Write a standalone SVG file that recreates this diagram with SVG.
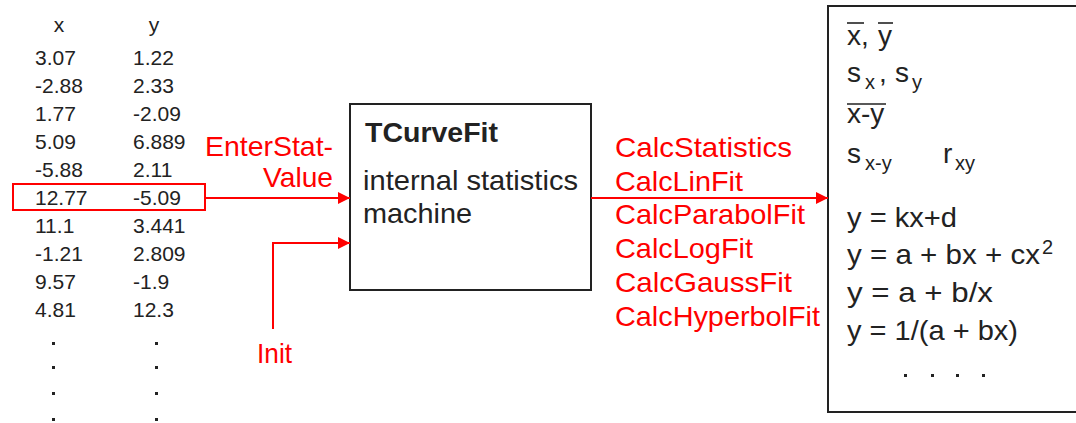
<svg xmlns="http://www.w3.org/2000/svg" width="1076" height="423" viewBox="0 0 1076 423">
<defs>
<style>
.tb{font-family:"Liberation Sans",Arial,sans-serif;font-size:21px;fill:#222}
.rd{font-family:"Liberation Sans",Arial,sans-serif;font-size:28px;fill:#ff0000}
.bk{font-family:"Liberation Sans",Arial,sans-serif;font-size:28px;fill:#222}
.sub{font-family:"Liberation Sans",Arial,sans-serif;font-size:20px;fill:#222}
.box{fill:#fff;stroke:#222;stroke-width:2}
.con{fill:none;stroke:#ff0000;stroke-width:2}
.bar{stroke:#222;stroke-width:1.6}
</style>
<marker id="ah" markerWidth="12" markerHeight="12" refX="12" refY="6" orient="auto" markerUnits="userSpaceOnUse">
<path d="M0,0 L12,6 L0,12 Z" fill="#ff0000"/>
</marker>
</defs>
<rect width="1076" height="423" fill="#fff"/>

<g id="table">
<text class="tb" x="59" y="32" text-anchor="middle">x</text>
<text class="tb" x="154" y="32" text-anchor="middle">y</text>
<text class="tb" x="35" y="65">3.07</text><text class="tb" x="133" y="65">1.22</text>
<text class="tb" x="35" y="93">-2.88</text><text class="tb" x="133" y="93">2.33</text>
<text class="tb" x="35" y="121">1.77</text><text class="tb" x="133" y="121">-2.09</text>
<text class="tb" x="35" y="149">5.09</text><text class="tb" x="133" y="149">6.889</text>
<text class="tb" x="35" y="177">-5.88</text><text class="tb" x="133" y="177">2.11</text>
<text class="tb" x="35" y="205">12.77</text><text class="tb" x="133" y="205">-5.09</text>
<text class="tb" x="35" y="233">11.1</text><text class="tb" x="133" y="233">3.441</text>
<text class="tb" x="35" y="261">-1.21</text><text class="tb" x="133" y="261">2.809</text>
<text class="tb" x="35" y="289">9.57</text><text class="tb" x="133" y="289">-1.9</text>
<text class="tb" x="35" y="317">4.81</text><text class="tb" x="133" y="317">12.3</text>
<g fill="#222">
<rect x="52" y="342" width="3" height="3"/><rect x="155" y="342" width="3" height="3"/>
<rect x="52" y="366" width="3" height="3"/><rect x="155" y="366" width="3" height="3"/>
<rect x="52" y="392" width="3" height="3"/><rect x="155" y="392" width="3" height="3"/>
<rect x="52" y="418" width="3" height="3"/><rect x="155" y="418" width="3" height="3"/>
</g>
<rect x="13" y="184" width="192" height="26" fill="none" stroke="#ff0000" stroke-width="2"/>
</g>

<g id="labels-in">
<text class="rd" x="205" y="156" textLength="128" lengthAdjust="spacingAndGlyphs">EnterStat-</text>
<text class="rd" x="263" y="187" textLength="70" lengthAdjust="spacingAndGlyphs">Value</text>
<text class="rd" x="257" y="363" textLength="35" lengthAdjust="spacingAndGlyphs">Init</text>
</g>

<g id="machine">
<rect class="box" x="350" y="104" width="241" height="186"/>
<text class="bk" x="365" y="142" font-weight="bold" textLength="133" lengthAdjust="spacingAndGlyphs">TCurveFit</text>
<text class="bk" x="363" y="190" textLength="215" lengthAdjust="spacingAndGlyphs">internal statistics</text>
<text class="bk" x="363" y="223" textLength="109" lengthAdjust="spacingAndGlyphs">machine</text>
</g>

<g id="methods">
<text class="rd" x="615" y="157" textLength="177" lengthAdjust="spacingAndGlyphs">CalcStatistics</text>
<text class="rd" x="615" y="191" textLength="128" lengthAdjust="spacingAndGlyphs">CalcLinFit</text>
<text class="rd" x="615" y="224" textLength="190" lengthAdjust="spacingAndGlyphs">CalcParabolFit</text>
<text class="rd" x="615" y="258" textLength="138" lengthAdjust="spacingAndGlyphs">CalcLogFit</text>
<text class="rd" x="615" y="292" textLength="177" lengthAdjust="spacingAndGlyphs">CalcGaussFit</text>
<text class="rd" x="615" y="326" textLength="205" lengthAdjust="spacingAndGlyphs">CalcHyperbolFit</text>
</g>

<g id="results">
<rect class="box" x="828" y="6" width="270" height="406"/>
<text class="bk" x="847" y="45">x,</text>
<text class="bk" x="878" y="45">y</text>
<line class="bar" x1="847" y1="23" x2="864" y2="23"/>
<line class="bar" x1="878" y1="23" x2="893" y2="23"/>
<text class="bk" x="847" y="82">s</text><text class="sub" x="865" y="89">x</text>
<text class="bk" x="879" y="82">,</text>
<text class="bk" x="895" y="82">s</text><text class="sub" x="912" y="89">y</text>
<text class="bk" x="847" y="123">x-y</text>
<line class="bar" x1="847" y1="104" x2="886" y2="104"/>
<text class="bk" x="847" y="163">s</text><text class="sub" x="865" y="170">x-y</text>
<text class="bk" x="943" y="163">r</text><text class="sub" x="955" y="170">xy</text>
<text class="bk" x="847" y="227" textLength="110" lengthAdjust="spacingAndGlyphs">y = kx+d</text>
<text class="bk" x="847" y="264" textLength="193" lengthAdjust="spacingAndGlyphs">y = a + bx + cx</text>
<text class="sub" x="1042" y="254">2</text>
<text class="bk" x="847" y="302" textLength="146" lengthAdjust="spacingAndGlyphs">y = a + b/x</text>
<text class="bk" x="847" y="340" textLength="171" lengthAdjust="spacingAndGlyphs">y = 1/(a + bx)</text>
<g fill="#222">
<rect x="904" y="374" width="3" height="3"/><rect x="931" y="374" width="3" height="3"/>
<rect x="956" y="374" width="3" height="3"/><rect x="982" y="374" width="3" height="3"/>
</g>
</g>

<g id="connectors">
<path class="con" d="M205,198 H350" marker-end="url(#ah)"/>
<path class="con" d="M273,329 V243 H350" marker-end="url(#ah)"/>
<path class="con" d="M591,198 H828" marker-end="url(#ah)"/>
</g>
</svg>
